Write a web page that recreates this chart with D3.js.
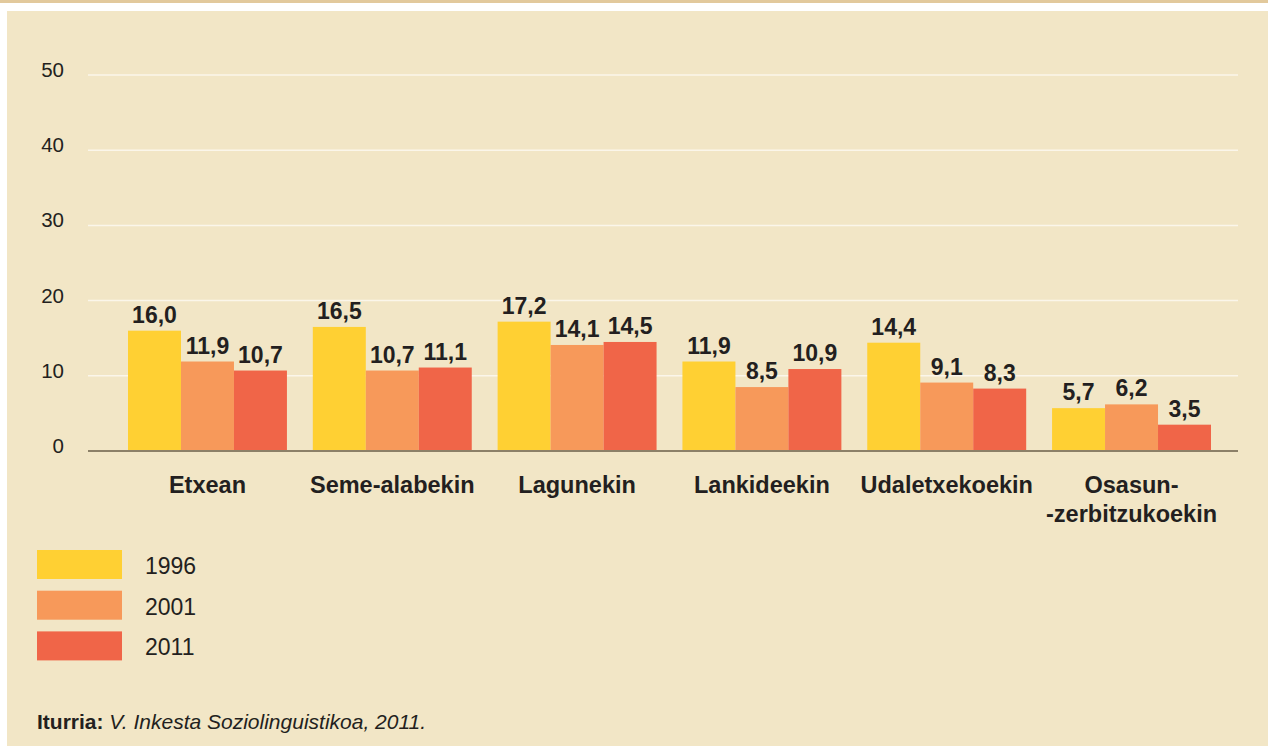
<!DOCTYPE html>
<html>
<head>
<meta charset="utf-8">
<script src="https://cdn.jsdelivr.net/npm/d3@7"></script>
<style>
  body { margin: 0; background: #ffffff; }
  svg { display: block; font-family: "Liberation Sans", Arial, sans-serif; }
</style>
</head>
<body>
<div class="layout"></div>
<script>
// data
var categories = ["Etxean", "Seme-alabekin", "Lagunekin", "Lankideekin", "Udaletxekoekin", "Osasun-\n-zerbitzukoekin"]
var years = ["1996", "2001", "2011"]
var values1996 = [16.0, 16.5, 17.2, 11.9, 14.4, 5.7]
var values2001 = [11.9, 10.7, 14.1, 8.5, 9.1, 6.2]
var values2011 = [10.7, 11.1, 14.5, 10.9, 8.3, 3.5]
var yTicks = [0, 10, 20, 30, 40, 50]
var colors = ["#ffd033", "#f7995a", "#f06548"]

function makeChart () {
  var width = 1268
  var height = 746
  var series = [values1996, values2001, values2011]

  var svg = d3.select("div.layout")
    .append("svg")
      .attr("width", width)
      .attr("height", height)

  // top strip and panel
  svg.append("rect")
    .attr("x", 0).attr("y", 0)
    .attr("width", width).attr("height", 3)
    .attr("fill", "#e2c99c")

  svg.append("rect")
    .attr("x", 7).attr("y", 11)
    .attr("width", width - 7).attr("height", height - 11)
    .attr("fill", "#f2e6c6")

  const x0 = d3.scaleBand()
    .domain(categories)
    .range([128, 1211])
    .paddingInner(0.14)
    .paddingOuter(0)

  const x1 = d3.scaleBand()
    .domain(years)
    .range([0, x0.bandwidth()])

  const y = d3.scaleLinear()
    .domain([0, 50])
    .range([451, 75])

  // gridlines
  svg.append("g")
    .attr("class", "grid")
    .selectAll("line")
    .data(yTicks.slice(1))
    .enter()
    .append("line")
    .attr("x1", 88)
    .attr("x2", 1238)
    .attr("y1", function (d) { return y(d) })
    .attr("y2", function (d) { return y(d) })
    .attr("stroke", "#fbf6ea")
    .attr("stroke-width", 1.5)

  // y tick labels
  svg.append("g")
    .attr("class", "yAxis")
    .selectAll("text")
    .data(yTicks)
    .enter()
    .append("text")
    .attr("x", 64)
    .attr("y", function (d) { return y(d) + 2 })
    .attr("text-anchor", "end")
    .attr("font-size", 20.5)
    .attr("fill", "#231f20")
    .text(function (d) { return d })

  // bars
  var groups = svg.append("g")
    .attr("id", "graph")
    .selectAll("g")
    .data(categories)
    .enter()
    .append("g")
    .attr("transform", function (d) { return "translate(" + x0(d) + ",0)" })

  groups.selectAll("rect")
    .data(function (d, i) {
      return years.map(function (yr, j) { return { year: yr, value: series[j][i], c: j } })
    })
    .enter()
    .append("rect")
    .attr("x", function (d) { return x1(d.year) })
    .attr("y", function (d) { return y(d.value) })
    .attr("width", x1.bandwidth())
    .attr("height", function (d) { return y(0) - y(d.value) })
    .attr("fill", function (d) { return colors[d.c] })

  groups.selectAll("text")
    .data(function (d, i) {
      return years.map(function (yr, j) { return { year: yr, value: series[j][i] } })
    })
    .enter()
    .append("text")
    .attr("x", function (d) { return x1(d.year) + x1.bandwidth() / 2 })
    .attr("y", function (d) { return y(d.value) - 8 })
    .attr("text-anchor", "middle")
    .attr("font-size", 23)
    .attr("font-weight", "bold")
    .attr("fill", "#231f20")
    .text(function (d) { return d.value.toFixed(1).replace(".", ",") })

  // baseline
  svg.append("line")
    .attr("x1", 88)
    .attr("x2", 1238)
    .attr("y1", y(0))
    .attr("y2", y(0))
    .attr("stroke", "#8c8068")
    .attr("stroke-width", 2)

  // category labels
  svg.append("g")
    .attr("class", "xAxis")
    .selectAll("text")
    .data(categories)
    .enter()
    .append("text")
    .attr("x", function (d) { return x0(d) + x0.bandwidth() / 2 })
    .attr("y", 493)
    .attr("text-anchor", "middle")
    .attr("font-size", 23.5)
    .attr("font-weight", "bold")
    .attr("fill", "#231f20")
    .each(function (d) {
      var lines = d.split("\n")
      var t = d3.select(this)
      lines.forEach(function (l, i) {
        t.append("tspan")
          .attr("x", x0(d) + x0.bandwidth() / 2)
          .attr("dy", i === 0 ? 0 : 29)
          .text(l)
      })
    })

  // legend
  var legend = svg.append("g")
    .attr("class", "legend")
    .selectAll("g")
    .data(years)
    .enter()
    .append("g")
    .attr("transform", function (d, i) { return "translate(37," + (550 + i * 40.7) + ")" })

  legend.append("rect")
    .attr("width", 85)
    .attr("height", 29)
    .attr("fill", function (d, i) { return colors[i] })

  legend.append("text")
    .attr("x", 108)
    .attr("y", 24)
    .attr("font-size", 23)
    .attr("fill", "#231f20")
    .text(function (d) { return d })

  // source
  var source = svg.append("text")
    .attr("x", 37)
    .attr("y", 729)
    .attr("font-size", 21)
    .attr("fill", "#231f20")

  source.append("tspan")
    .attr("font-weight", "bold")
    .text("Iturria: ")

  source.append("tspan")
    .attr("font-style", "italic")
    .text("V. Inkesta Soziolinguistikoa, 2011.")
}

makeChart()
</script>
</body>
</html>
